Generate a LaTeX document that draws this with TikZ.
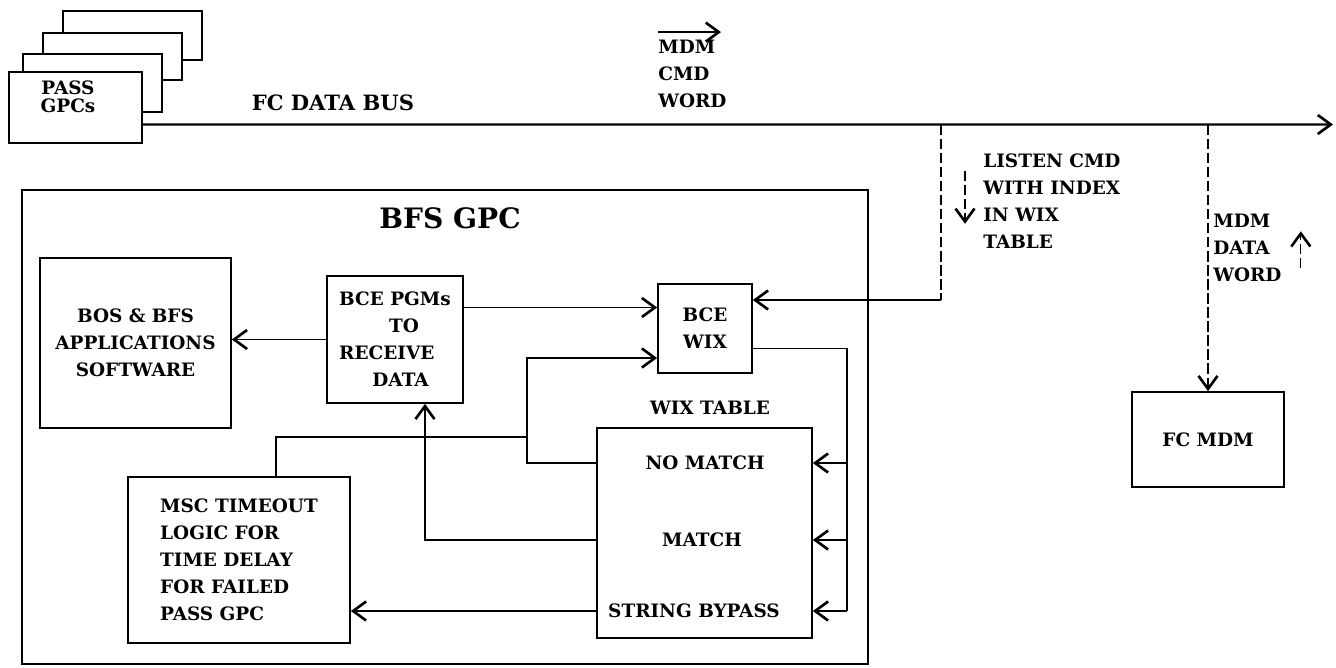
\documentclass[tikz,border=0pt]{standalone}
\usepackage{fontspec}
\setmainfont{DejaVu Serif}
\usetikzlibrary{arrows.meta, positioning}

\begin{document}
\begin{tikzpicture}[
    x=0.02cm, y=-0.02cm,
    font=\fontsize{10.5}{15.4}\selectfont\bfseries,
    box/.style={rectangle, draw, line width=1pt, fill=white, inner sep=0pt, align=center},
    txt/.style={inner sep=0pt, align=left},
    link/.style={line width=1pt},
    arr/.style={line width=1pt, -{Straight Barb[length=2.6mm, width=3.8mm, line width=1.5pt]}},
    tap/.style={line width=0.7pt, dash pattern=on 6pt off 2pt},
]

\useasboundingbox (0,0) rectangle (1336,667);

% PASS GPC stack
\node[box, minimum width=2.78cm, minimum height=0.98cm] (pass4) at (132.5,35.5) {};
\node[box, minimum width=2.78cm, minimum height=0.94cm] (pass3) at (112.5,56.5) {};
\node[box, minimum width=2.78cm, minimum height=1.16cm] (pass2) at (92.5,83) {};
\node[box, minimum width=2.66cm, minimum height=1.42cm] (pass1) at (75.5,107.5) {};
\node[txt, align=center, font=\fontsize{10.5}{10}\selectfont\bfseries] (passtxt) at (68,97) {PASS\\GPCs};

% FC data bus
\coordinate (busstart) at ([yshift=-0.34cm]pass1.east);
\coordinate (busend) at (1333,124.5);
\draw[arr, line width=1.3pt] (busstart) -- (busend);
\node[txt, font=\fontsize{12}{14}\selectfont\bfseries] (bustxt) at (333,103) {FC DATA BUS};

\node[txt, anchor=north west] (cmdlbl) at (658,40) {MDM\\CMD\\WORD};
\draw[arr] ([yshift=4.5pt]cmdlbl.north west) -- ++(63,0);

% BFS GPC
\node[box, minimum width=16.92cm, minimum height=9.48cm] (bfs) at (445,427) {};
\node[txt, font=\fontsize{16}{18}\selectfont\bfseries] (bfstitle) at (450,218) {BFS GPC};

\node[box, minimum width=3.82cm, minimum height=3.40cm] (bos) at (135.5,343) {BOS \& BFS\\APPLICATIONS\\SOFTWARE};
\node[box, minimum width=2.72cm, minimum height=2.54cm, align=left] (bcepgm) at (395,339.5)
    {BCE PGMs\\\hspace*{2.7em}TO\\RECEIVE\\\hspace*{1.8em}DATA};
\node[box, minimum width=1.88cm, minimum height=1.78cm] (bcewix) at (705,328.5) {BCE\\WIX};
\node[txt] (wixlbl) at (710,408) {WIX TABLE};
\node[box, minimum width=4.30cm, minimum height=4.20cm] (wixtbl) at (704.5,533) {};
\node[txt] (nomatch) at (705,463) {NO MATCH};
\node[txt] (match) at (702,540) {MATCH};
\node[txt] (bypass) at (694,611) {STRING BYPASS};
\node[box, minimum width=4.44cm, minimum height=3.32cm, align=left] (msc) at (239,560)
    {MSC TIMEOUT\\LOGIC FOR\\TIME DELAY\\FOR FAILED\\PASS GPC};

% FC MDM side
\node[box, minimum width=3.04cm, minimum height=1.90cm] (fcmdm) at (1208,439.5) {FC MDM};
\node[txt, anchor=north west] (listenlbl) at (983,153) {LISTEN CMD\\WITH INDEX\\IN WIX\\TABLE};
\node[txt, anchor=north west] (datalbl) at (1213,214) {MDM\\DATA\\WORD};

% Bus taps
\coordinate (listentap) at (941,124.5);
\coordinate (listencorner) at (941,300);
\draw[tap] (listentap) -- (listencorner);
\draw[arr] (listencorner) -- (listencorner -| bcewix.east);
\draw[arr, tap] ([shift={(-18,-30)}]listenlbl.west) -- ++(0,53);
\draw[arr, tap] (fcmdm.north |- busstart) -- (fcmdm.north);
\draw[arr, tap] ([shift={(19,20)}]datalbl.east) -- ++(0,-37);

% Connections
\draw[arr] (bcepgm.west) -- (bcepgm.west -| bos.east);
\coordinate (pgmout) at ([yshift=0.64cm]bcepgm.east);
\draw[arr] (pgmout) -- (pgmout -| bcewix.west);
\coordinate (wixout) at ([yshift=-0.4cm]bcewix.east);
\coordinate (spinebot) at (847,611);
\draw[link] (wixout) -| (spinebot);
\foreach \row in {nomatch, match, bypass}
  \draw[arr] (spinebot |- \row) -- (\row -| wixtbl.east);

\coordinate (nmcol) at (527,437);
\draw[arr] (nomatch -| wixtbl.west) -| (nmcol) |- ([yshift=-0.59cm]bcewix.west);
\draw[link] (nmcol) -| ([xshift=0.74cm]msc.north);
\draw[arr] (match -| wixtbl.west) -| ([xshift=0.6cm]bcepgm.south);
\draw[arr] (bypass -| wixtbl.west) -- (bypass -| msc.east);

\end{tikzpicture}
\end{document}
